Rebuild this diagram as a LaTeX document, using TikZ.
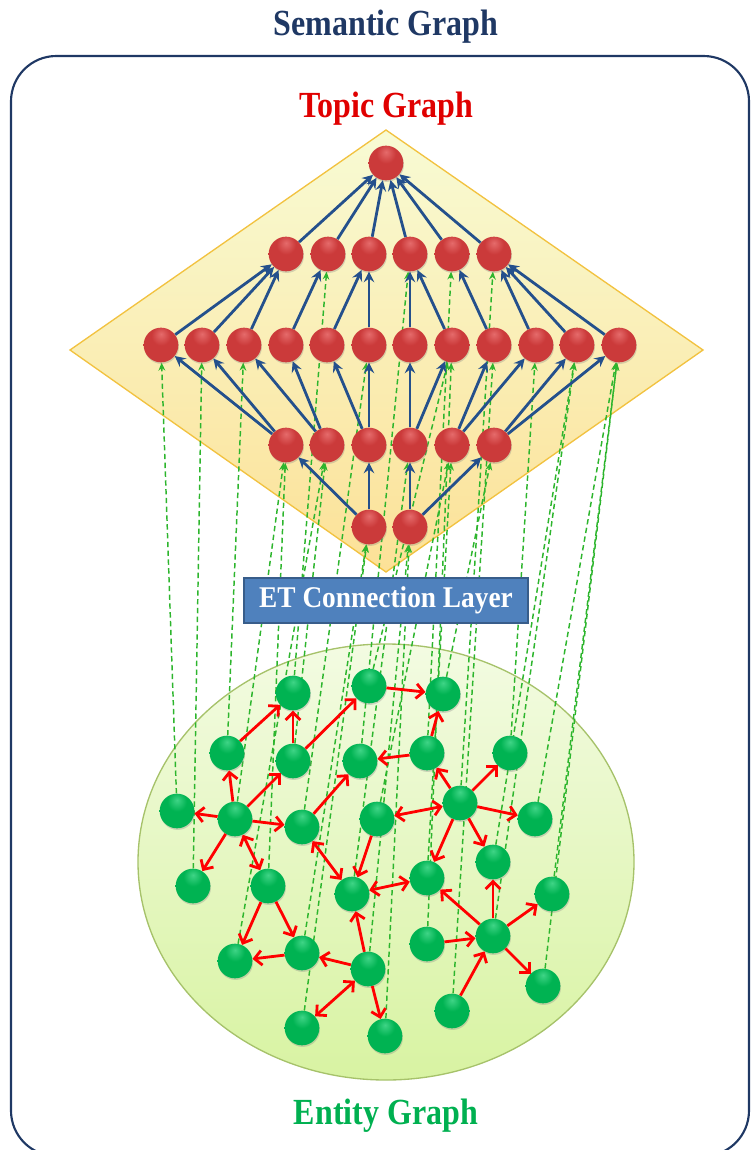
\documentclass[tikz,border=0pt]{standalone}
\usepackage{fontspec}
\setmainfont{Liberation Serif}
\usetikzlibrary{arrows.meta,shadows}
\definecolor{navy}{HTML}{1F3864}
\definecolor{topicred}{HTML}{E00000}
\definecolor{entgreen}{HTML}{00B050}
\definecolor{barcol}{HTML}{24508C}
\definecolor{gdcol}{HTML}{2DB52D}
\definecolor{rhi}{HTML}{E56B6B}
\definecolor{rmid}{HTML}{CB3A3A}
\definecolor{rdk}{HTML}{962222}
\definecolor{ghi}{HTML}{3FD486}
\definecolor{gmid}{HTML}{00B352}
\definecolor{gdk}{HTML}{007A36}
\definecolor{etfill}{HTML}{4F81BD}
\definecolor{etdraw}{HTML}{385D8A}
\definecolor{dmtop}{HTML}{F8FBD4}
\definecolor{dmbot}{HTML}{FCE197}
\definecolor{dmline}{HTML}{F2C240}
\definecolor{eltop}{HTML}{F3FBE2}
\definecolor{elbot}{HTML}{D8F3A2}
\definecolor{elline}{HTML}{A6C26A}
\pgfdeclareradialshading{redball}{\pgfpoint{0bp}{16bp}}{color(0bp)=(rhi); color(14bp)=(rmid); color(42bp)=(rmid); color(60bp)=(rdk); color(90bp)=(rdk)}
\pgfdeclareradialshading{greenball}{\pgfpoint{0bp}{16bp}}{color(0bp)=(ghi); color(14bp)=(gmid); color(42bp)=(gmid); color(60bp)=(gdk); color(90bp)=(gdk)}
\pgfdeclarelayer{bg}
\pgfdeclarelayer{dl}
\pgfsetlayers{bg,dl,main}
\tikzset{
  ball/.style={circle, minimum size=26pt, inner sep=0pt,
    drop shadow={shadow xshift=0.5pt, shadow yshift=-1.2pt, opacity=0.3}},
  rball/.style={ball, shading=redball},
  gball/.style={ball, shading=greenball},
  barrow/.style={draw=barcol, line width=2.1pt, -{Stealth[length=8pt,width=8pt,inset=2.8pt]}},
  rarrow/.style={draw=red, line width=2.1pt, -{Straight Barb[length=5.5pt,width=11pt]}},
  rdarrow/.style={draw=red, line width=2.1pt, {Straight Barb[length=5.5pt,width=11pt]}-{Straight Barb[length=5.5pt,width=11pt]}},
  gdash/.style={draw=gdcol, line width=1.1pt, dash pattern=on 4pt off 2.6pt, -{Stealth[length=6pt,width=5pt]}},
  ttl/.style={font=\bfseries\fontsize{24}{28}\selectfont}
}
\begin{document}
\begin{tikzpicture}[x=0.75pt,y=-0.75pt]
\useasboundingbox (0,0) rectangle (751,1150);
\begin{pgfonlayer}{bg}
  \begin{scope}
    \clip (0,0) rectangle (751,1150);
    \draw[draw=navy, line width=1.6pt, rounded corners=34pt] (11,56) rectangle (749,1156);
  \end{scope}
  \draw[draw=dmline, line width=1pt, top color=dmtop, bottom color=dmbot]
    (386,130) -- (703,350) -- (386,572) -- (70,350) -- cycle;
  \draw[draw=elline, line width=1pt, top color=eltop, bottom color=elbot]
    (386,862) ellipse [x radius=248, y radius=218];
\end{pgfonlayer}

\node[ttl, text=navy] (title) at (386,27) {\scalebox{1}[1.15]{Semantic Graph}};
\node[ttl, text=topicred] (topic) at (386,109) {\scalebox{1}[1.15]{Topic Graph}};
\node[ttl, text=entgreen] (entity) at (386,1116) {\scalebox{1}[1.15]{Entity Graph}};
\node[draw=etdraw, line width=1.2pt, fill=etfill, minimum width=213pt, minimum height=33.75pt,
  text=white, font=\bfseries\fontsize{20.5}{24}\selectfont] (et) at (386,600.5) {\scalebox{1}[1.1]{ET Connection Layer}};

% topic nodes
\foreach \n/\x/\y in {r0/386/163,
  r1a/286/254, r1b/328/254, r1c/369/254, r1d/410/254, r1e/452/254, r1f/494/254,
  r2a/161/345, r2b/202/345, r2c/244/345, r2d/286/345, r2e/327/345, r2f/369/345,
  r2g/410/345, r2h/452/345, r2i/494/345, r2j/536/345, r2k/577/345, r2l/619/345,
  r3a/286/445, r3b/327/445, r3c/369/445, r3d/410/445, r3e/452/445, r3f/494/445,
  r4a/369/527, r4b/410/527}
  \node[rball] (\n) at (\x,\y) {};

% entity nodes
\foreach \n/\x/\y in {g1/293/693, g2/369/686, g3/443/694, g4/227/753, g5/293/761,
  g6/360/761, g7/427/753, g8/510/753, g9/177/811, g10/235/819, g11/302/827,
  g12/377/819, g13/460/803, g14/535/819, g15/493/862, g16/193/886, g17/268/886,
  g18/352/894, g19/427/878, g20/552/894, g21/235/961, g22/302/953, g23/368/969,
  g24/427/944, g25/493/936, g26/543/986, g27/452/1011, g28/302/1028, g29/385/1036}
  \node[gball] (\n) at (\x,\y) {};

% topic hierarchy arrows
\foreach \a/\b in {r1a/r0, r1b/r0, r1c/r0, r1d/r0, r1e/r0, r1f/r0,
  r2a/r1a, r2b/r1a, r2c/r1a, r2d/r1b, r2e/r1c, r2f/r1c, r2g/r1d, r2h/r1d,
  r2i/r1e, r2j/r1f, r2k/r1f, r2l/r1f,
  r3a/r2a, r3a/r2b, r3b/r2c, r3b/r2d, r3c/r2e, r3c/r2f, r3d/r2g, r3d/r2h,
  r3e/r2i, r3e/r2j, r3f/r2k, r3f/r2l,
  r4a/r3a, r4a/r3c, r4b/r3d, r4b/r3f}
  \draw[barrow] (\a) -- (\b);

% entity graph arrows
\foreach \a/\b in {g4/g1, g5/g1, g5/g2, g2/g3, g7/g3, g7/g6, g10/g4, g10/g5,
  g10/g9, g10/g11, g11/g6, g13/g7, g13/g8, g13/g14, g13/g19, g13/g15, g10/g16,
  g12/g18, g25/g19, g25/g15, g25/g20, g25/g26, g24/g25, g27/g25, g17/g21,
  g17/g22, g22/g21, g23/g22, g23/g18, g23/g29}
  \draw[rarrow] (\a) -- (\b);
\foreach \a/\b in {g12/g13, g10/g17, g11/g18, g18/g19, g23/g28}
  \draw[rdarrow] (\a) -- (\b);

% entity-topic connections
\begin{pgfonlayer}{dl}
\foreach \a/\b in {g9/r2a, g16/r2b, g4/r2c, g10/r3a, g17/r3a, g1/r1b, g21/r3b,
  g5/r3b, g22/r4a, g11/r2f, g28/r4a, g29/r4b, g6/r1d, g18/r3d, g23/r4b, g2/r2h,
  g12/r3e, g7/r1e, g19/r3e, g24/r2h, g3/r3f, g27/r2i, g13/r1f, g8/r2j, g15/r2k,
  g25/r2k, g14/r2l, g26/r2l, g20/r2l}
  \draw[gdash] (\a) -- (\b);
\end{pgfonlayer}
\end{tikzpicture}
\end{document}
